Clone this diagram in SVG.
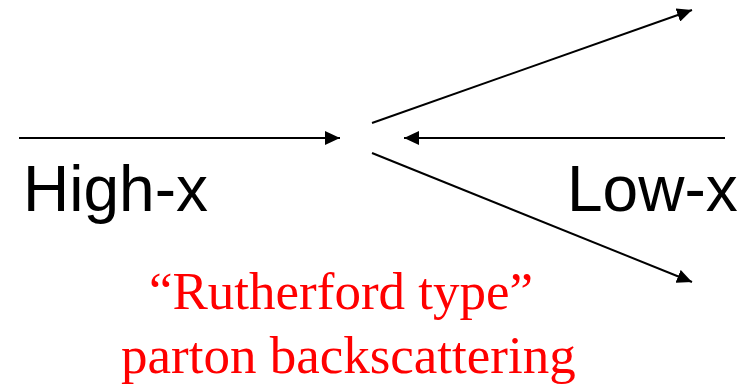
<svg xmlns="http://www.w3.org/2000/svg" width="751" height="384" viewBox="0 0 751 384">
  <style>
    .edge { stroke: #000; stroke-width: 2; fill: none; marker-end: url(#head); }
    .label { font-family: "Liberation Sans", Arial, sans-serif; font-size: 64px; fill: #000; }
    .note { font-family: "Liberation Serif", "Times New Roman", serif; font-size: 53px; fill: #ff0000; }
  </style>
  <defs>
    <marker id="head" viewBox="0 0 15 14" refX="15" refY="7" markerWidth="15" markerHeight="14" markerUnits="userSpaceOnUse" orient="auto">
      <path d="M0,0 L15,7 L0,14 Z" fill="#000"/>
    </marker>
  </defs>
  <rect width="751" height="384" fill="#fff"/>
  <g id="connectors">
    <line class="edge" x1="19" y1="138" x2="340" y2="138"/>
    <line class="edge" x1="725" y1="138" x2="404" y2="138"/>
    <line class="edge" x1="372" y1="123" x2="692" y2="10"/>
    <line class="edge" x1="372" y1="153" x2="692" y2="282"/>
  </g>
  <g id="high-x">
    <text class="label" x="23" y="211">High-x</text>
  </g>
  <g id="low-x">
    <text class="label" x="567" y="211">Low-x</text>
  </g>
  <g id="caption">
    <text class="note" x="149" y="309">“Rutherford type”</text>
    <text class="note" x="121" y="373">parton backscattering</text>
  </g>
</svg>
